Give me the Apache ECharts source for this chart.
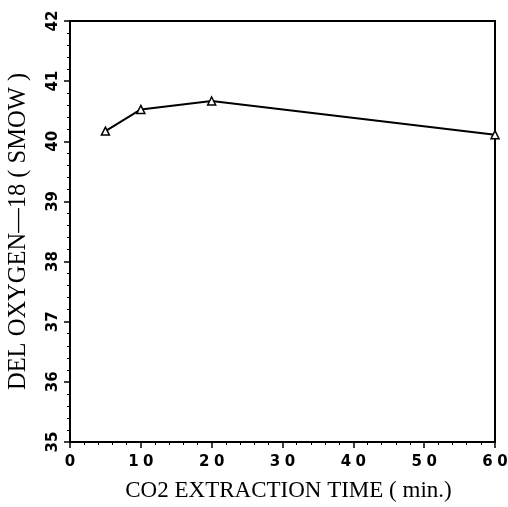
<!DOCTYPE html>
<html><head><meta charset="utf-8">
<script src="https://cdn.jsdelivr.net/npm/echarts@6/dist/echarts.min.js"></script>
<style>html,body{margin:0;padding:0;background:#fff}#c{width:508px;height:507px}</style>
</head><body><div id="c"></div>
<script>
const times = [5, 10, 20, 60];
const delO18 = [40.17, 40.53, 40.67, 40.11];
const xTicks = [0, 10, 20, 30, 40, 50, 60];
const yTicks = [35, 36, 37, 38, 39, 40, 41, 42];
const xTitle = 'CO2 EXTRACTION TIME ( min.)';
const yTitle = 'DEL OXYGEN\u201418 ( SMOW )';

const chart = echarts.init(document.getElementById('c'), null, {renderer: 'canvas'});
const lineStyle = {color: '#000', width: 2};
chart.setOption({
  animation: false,
  backgroundColor: '#fff',
  grid: {left: 70, right: 13, top: 21, bottom: 65, show: true, borderColor: '#000', borderWidth: 2,
    containLabel: false, outerBoundsMode: 'none'},
  xAxis: {
    type: 'value', min: xTicks[0], max: xTicks[xTicks.length - 1], interval: 10,
    name: xTitle, nameLocation: 'middle', nameGap: 37,
    nameTextStyle: {fontFamily: 'Liberation Serif', fontSize: 23, color: '#000', padding: [0, 0, 0, 12]},
    axisLine: {lineStyle: lineStyle},
    axisTick: {inside: false, length: 6, lineStyle: {color: '#000', width: 1.5}},
    minorTick: {show: true, splitNumber: 5, length: 3, lineStyle: {color: '#000', width: 1}},
    splitLine: {show: false},
    axisLabel: {fontFamily: 'DejaVu Sans', fontWeight: 'bold', fontSize: 15, color: '#000', margin: 13,
      formatter: v => String(v).split('').join('\u2009\u200A')}
  },
  yAxis: {
    type: 'value', min: yTicks[0], max: yTicks[yTicks.length - 1], interval: 1,
    name: yTitle, nameLocation: 'middle', nameGap: 39, nameRotate: 90,
    nameTextStyle: {fontFamily: 'Liberation Serif', fontSize: 24.5, color: '#000'},
    axisLine: {lineStyle: lineStyle},
    axisTick: {inside: false, length: 6, lineStyle: {color: '#000', width: 1.5}},
    minorTick: {show: true, splitNumber: 5, length: 3, lineStyle: {color: '#000', width: 1}},
    splitLine: {show: false},
    axisLabel: {rotate: 90, fontFamily: 'DejaVu Sans', fontWeight: 'bold', fontSize: 15, color: '#000', margin: 9}
  },
  series: [{
    type: 'line',
    data: times.map((t, i) => [t, delO18[i]]),
    symbol: 'triangle', symbolSize: 8,
    itemStyle: {color: '#fff', borderColor: '#000', borderWidth: 1.5},
    lineStyle: {color: '#000', width: 2},
    clip: false
  }]
});
</script></body></html>
